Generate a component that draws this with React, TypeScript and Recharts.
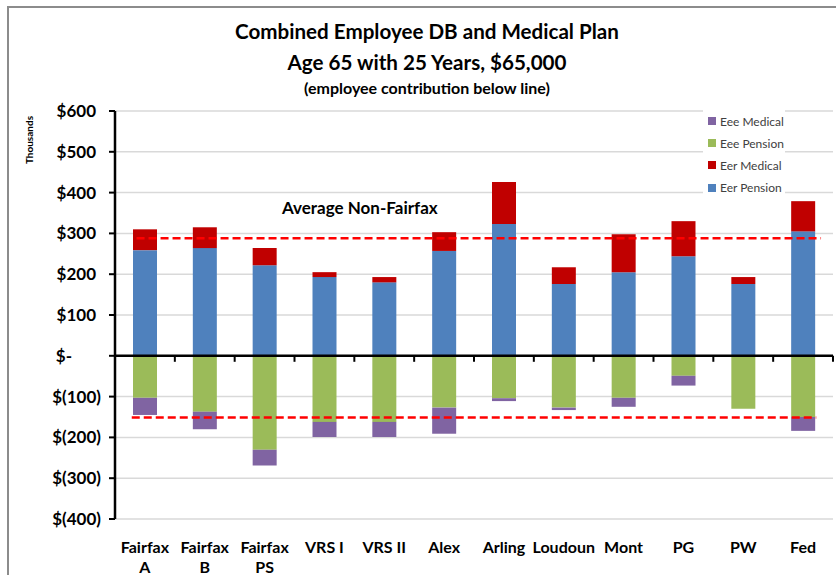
import React from 'react';
import { BarChart, Bar, XAxis, YAxis, CartesianGrid, ReferenceLine } from 'recharts';

// ── data (thousands of dollars) ───────────────────────────────────────────────

const CATEGORIES = [
  'Fairfax A', 'Fairfax B', 'Fairfax PS', 'VRS I', 'VRS II', 'Alex',
  'Arling', 'Loudoun', 'Mont', 'PG', 'PW', 'Fed',
];
const EER_PENSION = [259, 264, 222, 193, 180, 257, 323, 176, 205, 244, 176, 305];
const EER_MEDICAL = [51, 51, 42, 12, 13, 46, 103, 41, 93, 86, 17, 74];
const EEE_PENSION = [-103, -137, -230, -162, -162, -127, -104, -127, -103, -49, -130, -150];
const EEE_MEDICAL = [-42, -43, -39, -37, -37, -64, -7, -6, -22, -24, 0, -34];

const AVG_NON_FAIRFAX_ER = 288;
const AVG_NON_FAIRFAX_EE = -151;

const Y_TICKS = [-400, -300, -200, -100, 0, 100, 200, 300, 400, 500, 600];

// ── config ────────────────────────────────────────────────────────────────────

const FONT = 'Lato, "Open Sans", sans-serif';

const SERIES = [
  { key: 'erPension', name: 'Eer Pension', color: '#4F81BD' },
  { key: 'erMedical', name: 'Eer Medical', color: '#C00000' },
  { key: 'eePension', name: 'Eee Pension', color: '#9BBB59' },
  { key: 'eeMedical', name: 'Eee Medical', color: '#8064A2' },
];

const data = CATEGORIES.map((name, i) => ({
  name,
  erPension: EER_PENSION[i],
  erMedical: EER_MEDICAL[i],
  eePension: EEE_PENSION[i],
  eeMedical: EEE_MEDICAL[i],
}));

// ── ticks / shapes ────────────────────────────────────────────────────────────

function YTick({ x, y, payload }: any) {
  const v = payload.value as number;
  let label: string;
  let dx = 0;
  if (v < 0) label = `$(${Math.abs(v)})`;
  else if (v === 0) { label = '$-'; dx = -29; }
  else { label = `$${v}`; dx = -5; }
  return (
    <text x={x + dx} y={y} dy={6} textAnchor="end" fontSize={17} fontWeight={700}
      fontFamily={FONT} fill="#000">
      {label}
    </text>
  );
}

function XTick({ x, y, payload }: any) {
  const label = String(payload.value);
  const idx = label.lastIndexOf(' ');
  const lines = label.length > 6 && idx > 0
    ? [label.slice(0, idx), label.slice(idx + 1)]
    : [label];
  return (
    <text x={x} y={y + 34} textAnchor="middle" fontSize={16} fontWeight={700}
      fontFamily={FONT} fill="#000">
      {lines.map((l, i) => (
        <tspan key={i} x={x} dy={i === 0 ? 0 : 20}>{l}</tspan>
      ))}
    </text>
  );
}

// category axis drawn on the zero line, with tick marks between categories
function ZeroAxis(props: any) {
  const { x1, x2, y1 } = props;
  const step = (x2 - x1) / CATEGORIES.length;
  return (
    <g>
      <line x1={x1} x2={x2} y1={y1} y2={y1} stroke="#000" strokeWidth={2.5} />
      {CATEGORIES.map((_, i) => (
        <line key={i} x1={x1 + step * (i + 1)} x2={x1 + step * (i + 1)}
          y1={y1} y2={y1 + 6} stroke="#000" strokeWidth={2} />
      ))}
    </g>
  );
}

function avgLine(padLeft: number, padRight: number) {
  return (props: any) => {
    const { x1, x2, y1 } = props;
    const step = (x2 - x1) / CATEGORIES.length;
    return (
      <line x1={x1 + step * padLeft} x2={x2 - step * padRight} y1={y1} y2={y1}
        stroke="#FF0000" strokeWidth={2.5} strokeDasharray="8 4" />
    );
  };
}

// ── main ──────────────────────────────────────────────────────────────────────

export default function App() {
  const legendItems = [...SERIES].reverse();
  return (
    <div style={{ position: 'absolute', left: 0, top: 0, width: 836, height: 575,
      overflow: 'hidden', background: '#fff', fontFamily: FONT }}>
      {/* chart frame */}
      <div style={{ position: 'absolute', left: 7, top: 6, width: 840, height: 600,
        borderTop: '2px solid #8c8c8c', borderLeft: '2px solid #8c8c8c' }} />

      {/* title */}
      <div style={{ position: 'absolute', left: 0, width: 854, top: 16, textAlign: 'center',
        fontWeight: 700, fontSize: 20.6, lineHeight: '31px', color: '#000' }}>
        <div>Combined Employee DB and Medical Plan</div>
        <div>Age 65 with 25 Years, $65,000</div>
        <div style={{ fontSize: 16, lineHeight: '22px', marginTop: -1 }}>
          (employee contribution below line)
        </div>
      </div>

      {/* axis units */}
      <div style={{ position: 'absolute', left: 29, top: 140, transform: 'translate(-50%, -50%) rotate(-90deg)',
        fontSize: 10, fontWeight: 700, color: '#000', whiteSpace: 'nowrap' }}>
        Thousands
      </div>

      <div style={{ position: 'absolute', left: 0, top: 0 }}>
        <BarChart width={836} height={575} data={data} stackOffset="sign"
          margin={{ top: 111, right: 3, left: 0, bottom: 0 }}>
          <CartesianGrid vertical={false} stroke="#d9d9d9" strokeWidth={1.5} />
          <XAxis dataKey="name" height={56} axisLine={false} tickLine={false}
            tickSize={0} tickMargin={0} interval={0} tick={<XTick />} />
          <YAxis width={115} domain={[-400, 600]} ticks={Y_TICKS} interval={0}
            axisLine={{ stroke: '#000', strokeWidth: 2.5 }}
            tickLine={{ stroke: '#000', strokeWidth: 2 }} tickSize={6} tickMargin={8}
            tick={<YTick />} />
          {SERIES.map((s) => (
            <Bar key={s.key} dataKey={s.key} name={s.name} stackId="a" fill={s.color}
              barSize={24} isAnimationActive={false} />
          ))}
          <ReferenceLine y={0} shape={ZeroAxis} />
          <ReferenceLine y={AVG_NON_FAIRFAX_ER} shape={avgLine(0.36, 0.2)} />
          <ReferenceLine y={AVG_NON_FAIRFAX_EE} shape={avgLine(0.28, 0.28)} />
        </BarChart>
      </div>

      {/* average label */}
      <div style={{ position: 'absolute', left: 282, top: 197, fontSize: 17, fontWeight: 700,
        lineHeight: '22px', color: '#000', whiteSpace: 'nowrap' }}>
        Average Non-Fairfax
      </div>

      {/* legend */}
      <div style={{ position: 'absolute', left: 703, top: 109, width: 82, height: 88,
        background: '#fff' }}>
        {legendItems.map((s, i) => (
          <div key={s.key} style={{ position: 'absolute', left: 5, top: 12 + i * 22.2 - 8,
            height: 16, display: 'flex', alignItems: 'center', whiteSpace: 'nowrap' }}>
            <span style={{ display: 'inline-block', width: 8, height: 8, background: s.color,
              marginRight: 4 }} />
            <span style={{ fontSize: 12, color: '#404040' }}>{s.name}</span>
          </div>
        ))}
      </div>
    </div>
  );
}
